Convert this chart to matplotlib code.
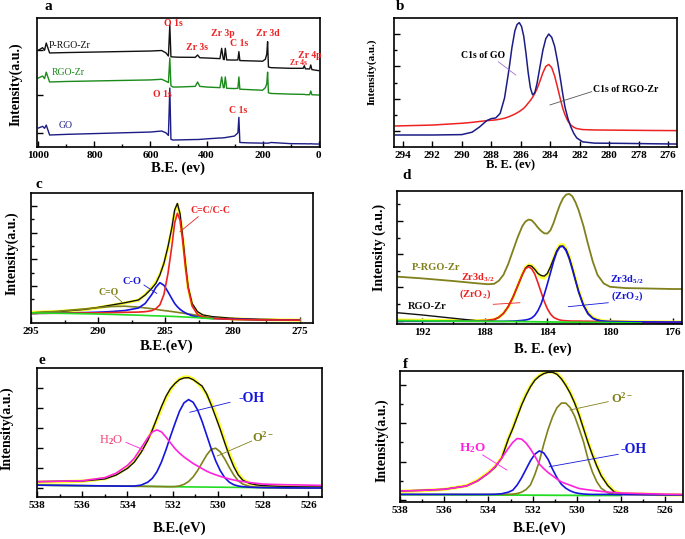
import numpy as np
import matplotlib
matplotlib.use("Agg")
import matplotlib.pyplot as plt
from matplotlib.ticker import MultipleLocator, FixedLocator, NullFormatter

plt.rcParams['font.family'] = ['Liberation Serif', 'DejaVu Serif']
plt.rcParams['font.weight'] = 'bold'
plt.rcParams['mathtext.fontset'] = 'custom'
plt.rcParams['mathtext.rm'] = 'Liberation Serif:bold'
plt.rcParams['mathtext.it'] = 'Liberation Serif:bold'
plt.rcParams['mathtext.bf'] = 'Liberation Serif:bold'

nan = np.nan

# ---------------- panel a: survey spectra ----------------
a_be = [1000, 985, 978, 972, 960, 900, 800, 700, 600, 560, 545, 536, 531, 527, 520, 500,
        440, 432, 424, 400, 352, 346, 340, 337, 333, 328, 300, 288, 284.5, 281, 250, 200,
        190, 185, 182, 179, 170, 100, 55, 51, 47, 32, 28, 24, 0]
a_go = [14.7, 16, 14.5, 17, 9.3, 9.8, 10.4, 11, 11.6, 12.4, 11, 9, 45.7, 6, 5.4, 5.5,
        5.8, 5.8, 5.9, 6.3, 7, 7, 7.1, 7.2, 7.3, 7.5, 8.5, 11, 23, 3.5, 3.2, 3,
        3, 3, 3, 3, 3.5, 2.6, 2.5, 2.5, 2.5, 2.4, 2.6, 2.4, 2.3]
a_rgo = [53.5, 55, 53, 58, 50.4, 50.8, 51.2, 51.6, 52, 52.5, 51, 50, 69, 47.5, 46.5, 46.5,
         47, 50.4, 47, 46.5, 46, 54.3, 46, 46, 54.3, 45.5, 45.3, 45.5, 54.3, 44.8, 44.5, 44,
         46, 49, 58, 42, 41.5, 41, 40.8, 40.8, 40.6, 40.5, 43.4, 40.5, 40.3]
a_prgo = [75, 77, 75, 80.6, 72.9, 73.2, 73.6, 74, 74.4, 74.8, 73, 70.5, 94.6, 70, 69.8, 69.6,
          69.5, 71.3, 69.2, 69, 68.5, 76.5, 68, 67.7, 76.5, 67.5, 67.4, 67.5, 73.9, 67, 66.8, 66.5,
          68, 72, 81.6, 62, 61.5, 61, 61, 63, 60.6, 60.5, 63.6, 60, 59.2]

# ---------------- panel b: C1s comparison ----------------
b_be = [294.5, 292, 290, 289.3, 288.8, 288.3, 288.0, 287.7, 287.4, 287.1,
        286.8, 286.6, 286.4, 286.25, 286.1, 285.95, 285.8, 285.65, 285.5, 285.35,
        285.2, 285.05, 284.9, 284.7, 284.5, 284.3, 284.1, 283.9, 283.7, 283.5,
        283.3, 283.15, 283.0, 282.8, 282.6, 282.4, 282.2, 281.8, 281, 279,
        277, 275.4]
b_go = [9.3, 9.3, 9.6, 11.5, 15.5, 20.5, 22, 22.5, 26, 38,
        60, 77, 90, 95, 96.4, 93.5, 86, 73, 58, 46,
        40.5, 42, 49, 62, 75, 84, 87.6, 85, 78, 66,
        52, 41, 31, 22, 15.5, 10.5, 7, 4, 3, 2.8,
        2.5, 2.3]
b_rgo = [16.3, 17, 18.4, 19.1, 19.8, 20.4, 20.7, 21, 21.6, 22.3,
         23.5, 24.5, 25.5, 26.5, 27.5, 28.7, 30, 31.8, 34, 36,
         38.5, 41.5, 45, 51, 57.5, 62.5, 64, 61.5, 55, 46,
         36.5, 30, 25, 20, 17, 15.3, 14.3, 13.5, 13.2, 13,
         12.8, 12.7]

# ---------------- panel c: C1s fit ----------------
c_be = [295, 293, 291, 290, 289, 288, 287, 286.5, 286, 285.7, 285.4, 285.1, 284.8, 284.5,
        284.3, 284.1, 283.9, 283.7, 283.5, 283.3, 283.0, 282.6, 282.2, 281.5, 280, 278, 275]
c_data = [7.9, 8.7, 10.5, 12, 13.8, 15.6, 17.7, 21.5, 26.7, 30.5, 37, 46, 58.7, 74,
          87, 92, 84, 66, 46, 28, 15, 8.7, 6.2, 4.9, 3.6, 2.8, 2.3]
c_fit = [8.2, 8.9, 10.3, 11.8, 13.6, 15.4, 17.5, 21.8, 27.5, 31.5, 37.5, 46, 58, 73,
         86, 91, 83, 65, 45, 27, 14, 8, 5.5, 4.2, 3.2, 2.6, 2.2]
c_cc = [7.4, 7.5, 7.7, 7.8, 8.0, 8.2, 8.4, 8.7, 9.5, 11, 14, 22, 38, 60,
        77, 84.4, 79, 63, 43, 27, 13, 6.5, 4.5, 3.5, 2.8, 2.4, 2.2]
c_co = [7.4, 7.6, 8.0, 8.3, 8.8, 9.6, 11.5, 15, 22, 27.5, 31, 29, 24, 18.5,
        15, 12.5, 10.5, 9, 7.8, 6.8, 5.6, 4.6, 4, 3.5, 3, 2.6, 2.2]
c_c_o = [7.6, 9, 10.8, 11.8, 12.7, 12.9, 12.2, 11.6, 11, 10.5, 10, 9.6, 9.2, 8.8,
         8.5, 8.2, 7.9, 7.6, 7.3, 7, 6.5, 5.8, 5, 4, 2.8, 2.4, 2.2]
c_bg = [7.8, 7.5, 7.1, 6.9, 6.6, 6.3, 6.0, 5.8, 5.6, 5.5, 5.4, 5.3, 5.2, 5.1,
        5.0, 4.9, 4.8, 4.7, 4.6, 4.5, 4.3, 4.1, 3.8, 3.3, nan, nan, nan]

# ---------------- panel d: Zr3d ----------------
d_be = [193.6, 192, 190, 188.5,
        187.8, 187.4, 187.1, 186.8, 186.5, 186.2, 185.9, 185.6,
        185.4, 185.2, 185.0, 184.8, 184.6, 184.4, 184.2, 184.0,
        183.8, 183.6, 183.4, 183.2, 183.0, 182.8, 182.6, 182.4,
        182.2, 182.0, 181.7, 181.4, 181.1, 180.8, 180.4, 180.0,
        179, 178, 176, 175.4]
d_prgo = [35.6, 34.3, 32.3, 30.6,
          29.9, 30.2, 32.5, 37, 45, 55, 65, 73.5,
          77, 78.5, 78, 75.5, 72.5, 70, 68.2, 68,
          70.5, 76, 83, 89.5, 94.5, 97.3, 97.8, 96,
          91.5, 85.5, 74, 60, 47, 37, 30.5, 28,
          27, 26.8, 26.3, 26.3]
d_rgo = [8.5, 6.8, 4.3, 2.5,
         2.5, 3.2, 5, 8, 13, 20, 28.5, 37,
         42, 44, 43.5, 41, 38, 36.5, 36, 38,
         43, 49, 55, 58.5, 58.6, 56, 50, 42,
         33, 24.5, 14.5, 8, 4.5, 3, 2, 1.6,
         1.2, 1, 0.5, 0.5]
d_fit = [3, 2.8, 2.6, 2.5,
         2.7, 3.4, 5, 8, 12.8, 19.8, 28.5, 37.5,
         42.5, 44.5, 43.8, 41.5, 38, 35, 34.5, 37,
         42.5, 49, 55.5, 59.5, 59.8, 56.5, 50.5, 42.5,
         33.5, 25, 15, 8.5, 5, 3.3, 2.3, 2,
         1.8, 1.6, 1.5, 1.5]
d_32 = [2.5, 2.4, 2.3, 2.4,
        2.8, 3.5, 5, 8, 13, 20, 28.5, 37,
        41.5, 43, 41.5, 37.5, 31, 24, 17, 11.5,
        7.5, 5, 3.8, 3, 2.6, 2.4, 2.3, 2.2,
        2.2, 2.2, 2.1, 2.1, 2, 2, 1.9, 1.9,
        1.7, 1.5, 1.2, 1.2]
d_52 = [2, 2, 2, 2,
        2, 2, 2, 2, 2.1, 2.2, 2.4, 2.7,
        3, 3.5, 4.5, 6.5, 10, 15, 22, 30,
        38.5, 47, 54, 58, 58.3, 55, 49, 41,
        32.5, 24, 14, 7.5, 4.2, 2.8, 2.1, 1.9,
        1.7, 1.6, 1.5, 1.5]
d_bg = [2.5, 2.4, 2.2, 2.1,
        2.0, 2.0, 1.95, 1.9, 1.9, 1.85, 1.8, 1.8,
        1.75, 1.75, 1.7, 1.7, 1.65, 1.6, 1.6, 1.55,
        1.55, 1.5, 1.5, 1.45, 1.4, 1.4, 1.35, 1.35,
        1.3, 1.3, 1.25, 1.2, 1.2, 1.15, 1.1, 1.05,
        0.9, 0.6, nan, nan]

# ---------------- panel e: O1s (RGO-Zr) ----------------
e_be = [538, 537, 536, 535, 534.5, 534,
        533.7, 533.4, 533.1, 532.9, 532.7, 532.5,
        532.3, 532.1, 531.9, 531.7, 531.5, 531.3,
        531.1, 530.9, 530.7, 530.5, 530.3, 530.1,
        529.9, 529.7, 529.5, 529.3, 529.1, 528.9,
        528.6, 528.3, 528, 527, 526, 525.4]
e_data = [11.9, 12.2, 12.4, 14, 17, 22.2,
          27, 34.5, 44, 52, 61, 70,
          78, 84, 88, 91, 92.3, 92.5,
          91, 88.5, 86, 80, 71.5, 62,
          52.5, 42, 32, 23.5, 17, 13,
          10.5, 9.4, 8.8, 8, 7.8, 7.8]
e_fit = [11.5, 11.8, 12.3, 14.2, 17.5, 23,
         28, 35.5, 44.5, 52, 60, 68.5,
         76.5, 83, 88, 91.5, 93, 93,
         91.5, 88.5, 84.5, 79.5, 72.5, 64,
         54, 43.5, 33.5, 25, 18, 13.5,
         10.5, 9.3, 8.8, 8.1, 7.8, 7.7]
e_h2o = [11.9, 12.2, 12.6, 15, 18.5, 24.5,
         30, 38, 46, 50.5, 52, 50.5,
         46.5, 42, 37.5, 34, 31, 28.5,
         26, 24, 22, 20, 18.5, 17.2,
         16, 15, 14, 13.2, 12.5, 12,
         11.2, 10.6, 10, 9.5, 9.2, 9]
e_oh = [9.2, 9.0, 8.8, 8.6, 8.5, 8.4,
        8.5, 9.2, 11.5, 14.5, 19.5, 27,
        36.5, 47, 57, 66.5, 73, 75.5,
        73.5, 67.5, 58.5, 48, 37.5, 28,
        20.5, 15, 11.5, 9.5, 8.5, 8,
        7.6, 7.4, 7.3, 7.1, 7.0, 7.0]
e_o2 = [9.2, 9.0, 8.8, 8.6, 8.5, 8.4,
        8.3, 8.3, 8.2, 8.2, 8.1, 8.1,
        8.0, 8.0, 8.1, 8.6, 9.8, 12,
        15.5, 20.5, 26.5, 32.5, 37, 37.8,
        35, 29.5, 23, 17, 12.5, 10,
        8.2, 7.6, 7.4, 7.1, 7.0, 7.0]
e_bg = [9.2, 9.0, 8.8, 8.6, 8.5, 8.4,
        8.35, 8.3, 8.25, 8.2, 8.15, 8.1,
        8.05, 8.0, 7.95, 7.9, 7.85, 7.8,
        7.8, 7.75, 7.7, 7.7, 7.65, 7.6,
        7.6, 7.55, 7.5, 7.5, 7.45, 7.4,
        7.35, 7.3, 7.25, 7.1, 7.0, 7.0]

# ---------------- panel f: O1s (P-RGO-Zr) ----------------
f_be = [538, 537, 536, 535, 534.5, 534,
        533.7, 533.4, 533.1, 532.9, 532.7, 532.5,
        532.3, 532.1, 531.9, 531.7, 531.5, 531.3,
        531.1, 530.9, 530.7, 530.5, 530.3, 530.1,
        529.9, 529.7, 529.5, 529.3, 529.1, 528.9,
        528.6, 528.3, 528, 527, 526, 525.2]
f_data = [8.4, 8.9, 9.7, 12.2, 16, 22,
          26.5, 33.5, 48, 56, 65, 74,
          81.5, 88, 93, 96, 98, 99,
          99, 97.5, 94, 89, 83, 75.5,
          66.5, 56, 45.5, 36, 27.5, 20,
          12.5, 7.5, 6.3, 5.8, 5.6, 5.5]
f_fit = [8.2, 8.7, 9.6, 12.4, 16.5, 22.5,
         27, 34, 48.5, 56.5, 66, 75,
         82.5, 88.5, 93.5, 96.5, 98.5, 99.3,
         99.3, 98, 94.5, 89.5, 83.5, 76,
         67, 56.5, 46, 36.5, 28, 20.5,
         13, 8, 6.5, 6, 5.6, 5.5]
f_h2o = [8.4, 8.9, 9.7, 12.2, 16, 22,
         27, 33.5, 41, 45.5, 48.5, 48,
         45, 40.5, 35, 29, 25.5, 22.5,
         20, 17.5, 15.3, 14, 12.8, 11.5,
         10.3, 9.8, 9.3, 8.9, 8.5, 8.1,
         7.6, 7.2, 6.9, 6.4, 6, 5.8]
f_oh = [5.8, 5.8, 5.8, 5.8, 5.8, 5.8,
        5.9, 6.3, 7.5, 9, 13, 18.5,
        25, 31.5, 36.5, 39, 37.5, 32.5,
        25, 18.5, 13.5, 10.5, 8.5, 7.2,
        6.5, 6.1, 5.9, 5.8, 5.8, 5.8,
        5.8, 5.7, 5.7, 5.6, 5.5, 5.5]
f_o2 = [5.8, 5.8, 5.8, 5.8, 5.8, 5.8,
        5.8, 5.8, 5.9, 6, 6.5, 7.5,
        9.5, 13, 21, 31, 44, 55.5,
        65, 72, 75.5, 75.5, 72, 65.5,
        56, 46, 33, 23, 15.5, 10.5,
        7, 6, 5.8, 5.6, 5.5, 5.5]
f_bg = [5.6, 5.5, 5.5, 5.4, 5.4, 5.4,
        5.35, 5.3, 5.3, 5.3, 5.3, 5.25,
        5.25, 5.2, 5.2, 5.2, 5.2, 5.15,
        5.15, 5.1, 5.1, 5.1, 5.1, 5.05,
        5.05, 5.0, 5.0, 5.0, 5.0, 5.0,
        5.0, 5.0, 5.0, nan, nan, nan]

# ---------------- figure ----------------
W, H = 685, 539
fig = plt.figure(figsize=(W / 100, H / 100), dpi=100)

def add_ax(l, r, t, b):
    return fig.add_axes([l / W, 1 - b / H, (r - l) / W, (b - t) / H])

def ftxt(px, py, s, **kw):
    kw.setdefault('ha', 'center')
    kw.setdefault('va', 'center')
    kw.setdefault('fontweight', 'bold')
    fig.text(px / W, 1 - py / H, s, **kw)

def style(ax, xlim, xmaj, xmin, yticks, yminor=None):
    ax.set_xlim(*xlim)
    ax.set_ylim(0, 100)
    ax.xaxis.set_major_locator(MultipleLocator(xmaj))
    if xmin:
        ax.xaxis.set_minor_locator(MultipleLocator(xmin))
    ax.yaxis.set_major_locator(FixedLocator(yticks))
    if yminor is not None:
        ax.yaxis.set_minor_locator(FixedLocator(yminor))
    ax.yaxis.set_major_formatter(NullFormatter())
    ax.tick_params(which='both', direction='in', width=1.0, labelsize=8)
    ax.tick_params(which='major', length=4)
    ax.tick_params(which='minor', length=2)
    ax.tick_params(axis='x', pad=3)
    for lab in ax.get_xticklabels():
        lab.set_fontweight('bold')
    for s in ax.spines.values():
        s.set_linewidth(1.2)

RED = '#ee2222'
BLUE = '#1515dd'
OLIVE = '#80801c'
GREEN = '#22dd22'
YELLOW = '#ffff30'
MAG = '#ff22dd'
NAVY = '#1c1c85'

# ---- a ----
ax = add_ax(37, 320, 18, 147)
ax.plot(a_be, a_go, color=NAVY, lw=1.0)
ax.plot(a_be, a_rgo, color='#1a8a1a', lw=1.0)
ax.plot(a_be, a_prgo, color='#111111', lw=1.0)
style(ax, (1005, -5), 200, 100, [11, 40, 75])
ax.set_xticks([1000, 800, 600, 400, 200, 0])
ax.set_xticklabels(['1000', '800', '600', '400', '200', '0'], fontweight='bold')
ax.text(888, 79, 'P-RGO-Zr', color='#111111', fontsize=7, fontweight='normal', ha='center', va='center')
ax.text(894, 58, 'RGO-Zr', color='#1a8a1a', fontsize=7, fontweight='normal', ha='center', va='center')
ax.text(902, 17, 'GO', color=NAVY, fontsize=7, fontweight='normal', ha='center', va='center')
for x, y, s, fs in [(520, 96, 'O 1s', 7), (434, 77.5, 'Zr 3s', 7), (341, 88, 'Zr 3p', 7),
                    (284, 80.6, 'C 1s', 7), (181, 88, 'Zr 3d', 7), (31, 71, 'Zr 4p', 7),
                    (70, 65, 'Zr 4s', 5.5), (559, 41, 'O 1s', 7), (288, 28, 'C 1s', 7)]:
    ax.text(x, y, s, color=RED, fontsize=fs, fontweight='bold', ha='center', va='center')
ftxt(48, 6, 'a', fontsize=11)
ftxt(178, 168, 'B.E. (ev)', fontsize=10.5)
ftxt(16, 84, 'Intensity(a.u.)', fontsize=10, rotation=90)

# ---- b ----
ax = add_ax(394, 677, 18, 147)
ax.plot(b_be, b_rgo, color=RED, lw=1.1)
ax.plot(b_be, b_go, color=NAVY, lw=1.1)
style(ax, (294.6, 275.4), 2, None, [12.5, 37.5, 62.5, 87.5], [25, 50, 75])
ax.text(288.56, 71.3, 'C1s of GO', fontsize=7, ha='center', va='center')
ax.plot([287.52, 286.34], [66.1, 55.8], color='#a070c8', lw=0.6)
ax.text(278.9, 44.2, 'C1s of RGO-Zr', fontsize=7, ha='center', va='center')
ax.plot([281.19, 284.02], [42.9, 32.6], color='#555555', lw=0.6)
ftxt(400, 7, 'b', fontsize=11)
ftxt(510, 165, 'B. E. (ev)', fontsize=9)
ftxt(372, 72, 'Intensity(a.u.)', fontsize=8, rotation=90)

# ---- c ----
ax = add_ax(31, 313, 193, 323)
ax.plot(c_be, c_fit, color=YELLOW, lw=2.2)
ax.plot(c_be, c_data, color='#111111', lw=1.0)
ax.plot(c_be, c_c_o, color=OLIVE, lw=1.2)
ax.plot(c_be, c_co, color=BLUE, lw=1.2)
ax.plot(c_be, c_cc, color=RED, lw=1.2)
ax.plot(c_be, c_bg, color=GREEN, lw=1.2)
style(ax, (295, 274), 5, 2.5, [8, 28.5, 49, 69.5, 90], [18.25, 38.75, 59.25, 79.75])
ax.text(281.62, 86.9, 'C=C/C-C', color=RED, fontsize=7, ha='center', va='center')
ax.plot([282.54, 283.91], [81.8, 70.2], color=RED, lw=0.6)
ax.text(287.5, 31.8, 'C-O', color=BLUE, fontsize=7.5, ha='center', va='center')
ax.plot([286.59, 285.64], [29.2, 22.8], color=BLUE, lw=0.6)
ax.text(289.24, 23.8, 'C=O', color=OLIVE, fontsize=7, ha='center', va='center')
ax.plot([288.75, 288.25], [20.8, 16.4], color=OLIVE, lw=0.6)
ftxt(39, 185, 'c', fontsize=11)
ftxt(167, 346, 'B.E.(eV)', fontsize=10.5)
ftxt(12, 253, 'Intensity(a.u.)', fontsize=10, rotation=90)

# ---- d ----
ax = add_ax(397, 682, 191, 324)
ax.plot(d_be, d_prgo, color=OLIVE, lw=1.3)
ax.plot(d_be, d_fit, color=YELLOW, lw=2.2)
ax.plot(d_be, d_rgo, color='#111111', lw=1.0)
ax.plot(d_be, d_32, color=RED, lw=1.2)
ax.plot(d_be, d_52, color=BLUE, lw=1.2)
ax.plot(d_be, d_bg, color=GREEN, lw=1.3)
style(ax, (193.6, 175.4), 4, 2, [2.5, 27.5, 52.5, 77.5], [15, 40, 65, 90])
ax.text(191.1, 42.3, 'P-RGO-Zr', color=OLIVE, fontsize=7.5, ha='center', va='center')
ax.text(191.66, 13, 'RGO-Zr', color='#111111', fontsize=7.5, ha='center', va='center')
ax.text(188.43, 34.6, r'Zr3d$_{3/2}$', color=RED, fontsize=7.5, ha='center', va='center')
ax.text(188.62, 22.6, r'(ZrO$_2$)', color=RED, fontsize=7.5, ha='center', va='center')
ax.plot([187.45, 185.75], [14.8, 16], color=RED, lw=0.6)
ax.text(178.93, 33.6, r'Zr3d$_{5/2}$', color=BLUE, fontsize=7.5, ha='center', va='center')
ax.text(178.93, 20.5, r'(ZrO$_2$)', color=BLUE, fontsize=7.5, ha='center', va='center')
ax.plot([182.66, 180.11], [13, 16], color=BLUE, lw=0.6)
ftxt(407, 176, 'd', fontsize=11)
ftxt(543, 349, 'B. E. (ev)', fontsize=10.5)
ftxt(379, 247, 'Intensity (a.u.)', fontsize=10, rotation=90)

# ---- e ----
ax = add_ax(37, 322, 368, 497)
ax.plot(e_be, e_fit, color=YELLOW, lw=2.4)
ax.plot(e_be, e_data, color='#111111', lw=1.0)
ax.plot(e_be, e_bg, color=GREEN, lw=1.2)
ax.plot(e_be, e_o2, color=OLIVE, lw=1.2)
ax.plot(e_be, e_oh, color=BLUE, lw=1.2)
ax.plot(e_be, e_h2o, color=MAG, lw=1.2)
style(ax, (538, 525.4), 2, 1, [7, 22.5, 38, 53.5, 69, 84.5])
ax.text(534.7, 44.2, r'H$_2$O', color='#ee4477', fontsize=9, fontweight='normal', ha='center', va='center')
ax.plot([534.07, 533.27], [42.4, 36.4], color=MAG, lw=0.6)
ax.text(528.5, 76.5, '-OH', color=BLUE, fontsize=10, ha='center', va='center')
ax.plot([529.47, 531.24], [73.4, 65.7], color=BLUE, lw=0.6)
ax.text(528.0, 46.3, r'O$^{2-}$', color=OLIVE, fontsize=9, ha='center', va='center')
ax.plot([528.51, 530.03], [43.4, 31.8], color=OLIVE, lw=0.6)
ftxt(42, 360, 'e', fontsize=11)
ftxt(180, 528, 'B.E.(eV)', fontsize=10.5)
ftxt(7, 428, 'Intensity(a.u.)', fontsize=10, rotation=90)

# ---- f ----
ax = add_ax(400, 683, 371, 502)
ax.plot(f_be, f_fit, color=YELLOW, lw=2.4)
ax.plot(f_be, f_data, color='#111111', lw=1.0)
ax.plot(f_be, f_bg, color=GREEN, lw=1.3)
ax.plot(f_be, f_o2, color=OLIVE, lw=1.2)
ax.plot(f_be, f_oh, color=BLUE, lw=1.2)
ax.plot(f_be, f_h2o, color=MAG, lw=1.2)
style(ax, (538, 525.2), 2, 1, [1.5, 30.8, 60, 89.3], [16, 45.5, 74.5])
ax.text(534.71, 41.5, r'H$_2$O', color=MAG, fontsize=9.5, ha='center', va='center')
ax.plot([534.26, 533.17], [35.9, 24.4], color=MAG, lw=0.6)
ax.text(527.45, 39.7, '-OH', color=BLUE, fontsize=10, ha='center', va='center')
ax.plot([528.13, 531.25], [36.4, 26.9], color=BLUE, lw=0.6)
ax.text(527.97, 79.2, r'O$^{2-}$', color=OLIVE, fontsize=9, ha='center', va='center')
ax.plot([528.58, 530.31], [76.6, 70.2], color=OLIVE, lw=0.6)
ftxt(405, 364, 'f', fontsize=11)
ftxt(540, 528, 'B.E.(eV)', fontsize=10.5)
ftxt(382, 440, 'Intensity(a.u.)', fontsize=10, rotation=90)

fig.savefig('out.png', dpi=100)
